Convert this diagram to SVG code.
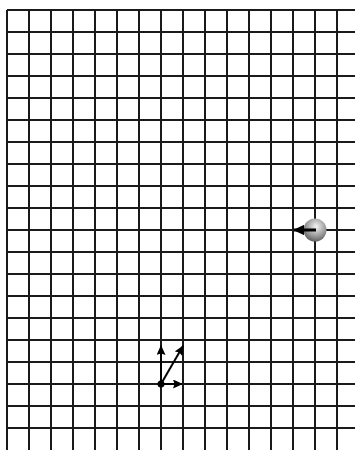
<svg xmlns="http://www.w3.org/2000/svg" width="355" height="450" viewBox="0 0 355 450">
<defs>
<radialGradient id="ball" cx="0.55" cy="0.35" r="0.7">
<stop offset="0" stop-color="#f4f4f4"/>
<stop offset="0.6" stop-color="#9a9a9a"/>
<stop offset="1" stop-color="#555"/>
</radialGradient>
<marker id="ah" viewBox="0 0 10 10" refX="9" refY="5" markerWidth="5" markerHeight="4.5" orient="auto" markerUnits="strokeWidth" preserveAspectRatio="none">
<path d="M0 0L10 5L0 10L1.5 5z" fill="#000"/>
</marker>
<marker id="ah2" viewBox="0 0 10 10" refX="9" refY="5" markerWidth="3.8" markerHeight="3.5" orient="auto" markerUnits="strokeWidth" preserveAspectRatio="none">
<path d="M0 0L10 5L0 10z" fill="#000"/>
</marker>
</defs>
<style>.g{stroke:#1a1a1a;stroke-width:2;fill:none}</style>
<rect width="355" height="450" fill="#fff"/>
<g id="grid">
<path class="g" d="M7 10V450M29 10V450M51 10V450M73 10V450M95 10V450M117 10V450M139 10V450M161 10V450M183 10V450M205 10V450M227 10V450M249 10V450M271 10V450M293 10V450M315 10V450M337 10V450"/>
<path class="g" d="M7 10H355M7 32H355M7 54H355M7 76H355M7 98H355M7 120H355M7 142H355M7 164H355M7 186H355M7 208H355M7 230H355M7 252H355M7 274H355M7 296H355M7 318H355M7 340H355M7 362H355M7 384H355M7 406H355M7 428H355"/>
</g>
<g id="ball-node">
<circle cx="315" cy="230" r="11.5" fill="url(#ball)"/>
<line x1="316" y1="230" x2="294" y2="230" stroke="#000" stroke-width="3" marker-end="url(#ah2)"/>
</g>
<g id="vectors">
<line x1="161" y1="384" x2="161" y2="346" stroke="#000" stroke-width="2" marker-end="url(#ah)"/>
<line x1="161" y1="384" x2="183" y2="346" stroke="#000" stroke-width="2" marker-end="url(#ah)"/>
<line x1="161" y1="384" x2="182" y2="384" stroke="#000" stroke-width="2" marker-end="url(#ah)"/>
<circle cx="161" cy="384" r="3.5" fill="#000"/>
</g>
</svg>
